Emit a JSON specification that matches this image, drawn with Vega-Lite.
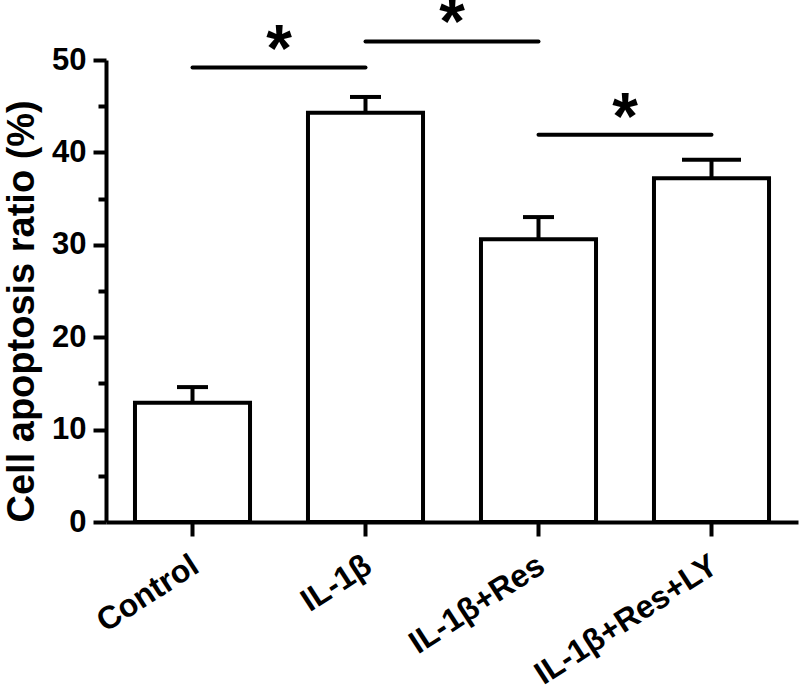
{
  "$schema": "https://vega.github.io/schema/vega-lite/v6.json",
  "width": 692,
  "height": 462,
  "autosize": "none",
  "padding": {"left": 106, "top": 60, "right": 2, "bottom": 170},
  "background": "white",
  "config": {
    "view": {"stroke": null},
    "font": "Liberation Sans"
  },
  "datasets": {
    "bars": [
      {"group": "Control", "mean": 12.9, "upper": 14.6},
      {"group": "IL-1β", "mean": 44.3, "upper": 46.0},
      {"group": "IL-1β+Res", "mean": 30.6, "upper": 33.0},
      {"group": "IL-1β+Res+LY", "mean": 37.2, "upper": 39.2}
    ],
    "sig": [
      {"from": "Control", "to": "IL-1β", "line": 49.2, "star": 51.0},
      {"from": "IL-1β", "to": "IL-1β+Res", "line": 52.0, "star": 53.9},
      {"from": "IL-1β+Res", "to": "IL-1β+Res+LY", "line": 41.9, "star": 43.6}
    ]
  },
  "encoding": {
    "x": {
      "field": "group",
      "type": "nominal",
      "sort": ["Control", "IL-1β", "IL-1β+Res", "IL-1β+Res+LY"],
      "scale": {"domain": ["Control", "IL-1β", "IL-1β+Res", "IL-1β+Res+LY"], "paddingInner": 0.335, "paddingOuter": 0.1675},
      "axis": {
        "title": null,
        "labelAngle": -33,
        "labelFont": "Liberation Sans",
        "labelFontWeight": "bold",
        "labelFontSize": 32,
        "labelColor": "black",
        "labelPadding": 26,
        "labelOffset": 3,
        "labelAlign": "right",
        "labelBaseline": "middle",
        "domainColor": "black",
        "domainWidth": 4,
        "tickColor": "black",
        "tickWidth": 4,
        "tickSize": 14,
        "labelLimit": 400
      }
    }
  },
  "layer": [
    {
      "data": {"name": "bars"},
      "mark": {"type": "rule", "color": "black", "strokeWidth": 4},
      "encoding": {
        "y": {"field": "mean", "type": "quantitative"},
        "y2": {"field": "upper"}
      }
    },
    {
      "data": {"name": "bars"},
      "transform": [{"filter": "datum.group !== 'IL-1β+Res+LY'"}],
      "mark": {"type": "tick", "color": "black", "thickness": 4, "size": 31, "orient": "horizontal", "opacity": 1},
      "encoding": {
        "y": {"field": "upper", "type": "quantitative"}
      }
    },
    {
      "data": {"name": "bars"},
      "transform": [{"filter": "datum.group === 'IL-1β+Res+LY'"}],
      "mark": {"type": "tick", "color": "black", "thickness": 4, "size": 59, "orient": "horizontal", "opacity": 1},
      "encoding": {
        "y": {"field": "upper", "type": "quantitative"}
      }
    },
    {
      "data": {"name": "bars"},
      "mark": {"type": "bar", "fill": "white", "stroke": "black", "strokeWidth": 4},
      "encoding": {
        "y": {
          "field": "mean",
          "type": "quantitative",
          "scale": {"domain": [0, 50], "nice": false, "zero": true},
          "axis": {
            "title": "Cell apoptosis ratio (%)",
            "titleFont": "Liberation Sans",
            "titleFontWeight": "bold",
            "titleFontSize": 38,
            "titleColor": "black",
            "titlePadding": 10,
            "titleAnchor": "start",
            "values": [0, 5, 10, 15, 20, 25, 30, 35, 40, 45, 50],
            "labelExpr": "datum.value % 10 === 0 ? datum.label : ''",
            "labelFont": "Liberation Sans",
            "labelFontWeight": "bold",
            "labelFontSize": 31,
            "labelColor": "black",
            "labelPadding": 7,
            "grid": false,
            "domainColor": "black",
            "domainWidth": 4,
            "tickColor": "black",
            "tickWidth": 4,
            "tickSize": {"condition": {"test": "datum.value % 10 === 0", "value": 13}, "value": 8}
          }
        }
      }
    },
    {
      "data": {"name": "sig"},
      "mark": {"type": "rule", "color": "black", "strokeWidth": 4, "strokeCap": "round"},
      "encoding": {
        "x": {"field": "from", "type": "nominal"},
        "x2": {"field": "to"},
        "y": {"field": "line", "type": "quantitative"}
      }
    },
    {
      "data": {"name": "sig"},
      "mark": {"type": "text", "text": "*", "fontSize": 66, "fontWeight": "bold", "font": "Liberation Sans", "color": "black", "baseline": "middle", "align": "center"},
      "encoding": {
        "x": {"field": "from", "type": "nominal", "bandPosition": 1.252},
        "y": {"field": "star", "type": "quantitative"}
      }
    }
  ]
}
